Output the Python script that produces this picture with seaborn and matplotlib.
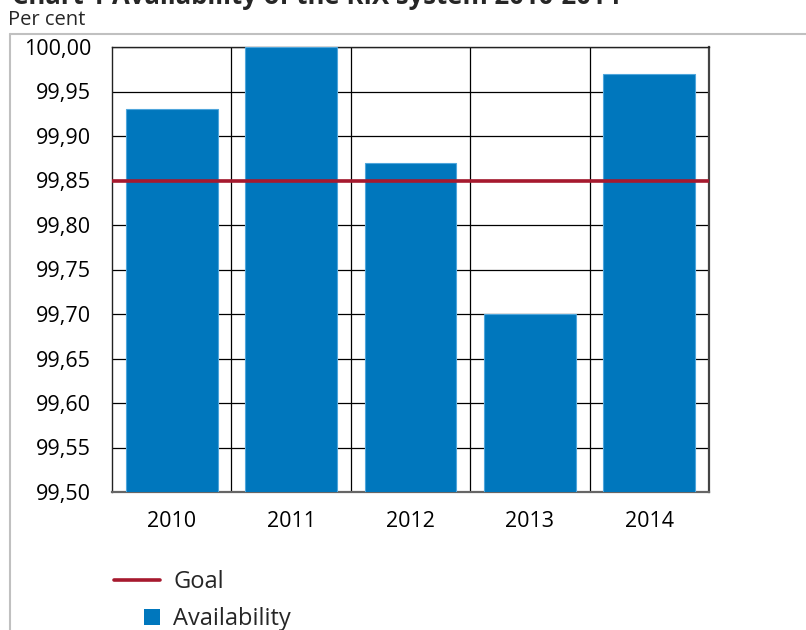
import matplotlib
matplotlib.use("Agg")
import matplotlib.pyplot as plt
import seaborn as sns
import pandas as pd
import numpy as np
from matplotlib.ticker import FuncFormatter, MultipleLocator
from matplotlib.lines import Line2D
from matplotlib.patches import Patch, Rectangle
from matplotlib.legend_handler import HandlerPatch

years = ["2010", "2011", "2012", "2013", "2014"]
availability = [99.93, 100.00, 99.87, 99.70, 99.97]
goal = 99.85
title = "Chart 1 Availability of the RIX system 2010-2014"
unit = "Per cent"

bar_color = "#0077BD"
goal_color = "#A6192E"

sns.set_theme(style="white")
plt.rcParams['font.family'] = ['Open Sans', 'DejaVu Sans']

fig = plt.figure(figsize=(8.06, 6.3), dpi=100)
ax = fig.add_axes([112/806, 1-492/630, (709-112)/806, (492-47)/630])

df = pd.DataFrame({"year": years, "value": availability})
sns.barplot(data=df, x="year", y="value", color=bar_color, saturation=1,
            width=0.77, ax=ax, zorder=3, edgecolor='#4fa6dc', linewidth=0.8)
ax.axhline(goal, color=goal_color, lw=2.6, zorder=4)

ax.set_ylim(99.5, 100.0)
ax.set_xlim(-0.5, len(years)-0.5)
ax.yaxis.set_major_locator(MultipleLocator(0.05))
ax.yaxis.set_major_formatter(FuncFormatter(lambda v, p: f"{v:.2f}".replace('.', ',')))
ax.set_xticks(np.arange(len(years)) + 0.5, minor=True)
ax.grid(True, axis='y', which='major', color='black', lw=0.9, zorder=0)
ax.grid(True, axis='x', which='minor', color='black', lw=0.9, zorder=0)
ax.grid(False, axis='x', which='major')
ax.set_axisbelow(True)
ax.tick_params(axis='both', which='both', length=0, labelsize=15.5, colors='black')
ax.tick_params(axis='x', pad=14)
ax.tick_params(axis='y', pad=15)
ax.set_xlabel("")
ax.set_ylabel("")
for s in ax.spines.values():
    s.set_visible(True)
    s.set_color('#222222')
    s.set_linewidth(1.0)
ax.spines['bottom'].set_color('#666666')
ax.spines['bottom'].set_linewidth(1.6)
ax.spines['right'].set_color('#444444')
ax.spines['right'].set_linewidth(1.6)

fig.text(12/806, 1-4/630, title, fontsize=18.5, fontweight='bold', va='baseline', ha='left')
fig.text(8/806, 1-25/630, unit, fontsize=14.5, va='baseline', ha='left')

fig.add_artist(Line2D([10/806, 1], [1-34/630, 1-34/630], color='#c0c0c0', lw=1.5))
fig.add_artist(Line2D([10/806, 10/806], [1-34/630, 0], color='#c0c0c0', lw=1.5))


def square_patch(legend, orig_handle, xdescent, ydescent, width, height, fontsize):
    side = 16 * 72 / 100
    return Rectangle((width - side - xdescent, (height - side) / 2 - ydescent), side, side)


handles = [Line2D([0], [0], color=goal_color, lw=2.6),
           Patch(facecolor=bar_color, edgecolor='none')]
leg = fig.legend(handles, ["Goal", "Availability"], loc='upper left',
                 bbox_to_anchor=(93/806, 1-549/630), frameon=False, fontsize=17,
                 handlelength=1.95, handleheight=0.8, handletextpad=0.55, labelspacing=0.55,
                 handler_map={Patch: HandlerPatch(patch_func=square_patch)})

fig.savefig("out.png", dpi=100)
